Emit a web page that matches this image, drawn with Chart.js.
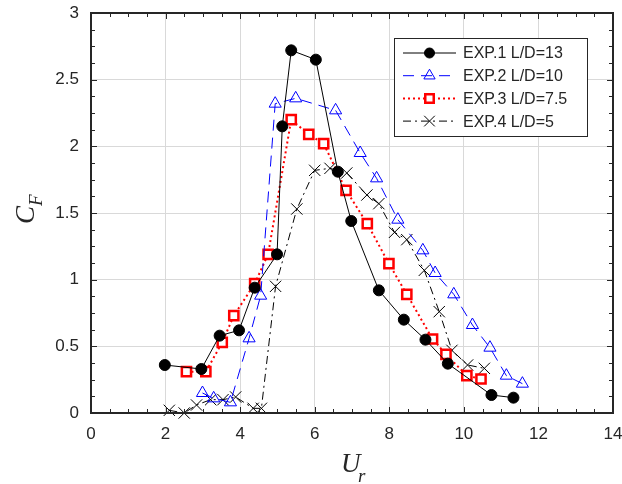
<!DOCTYPE html>
<html>
<head>
<meta charset="utf-8">
<script src="https://cdn.jsdelivr.net/npm/chart.js@4"></script>
<style>
  html, body { margin: 0; padding: 0; background: #fff; }
  #wrap { width: 622px; height: 484px; }
</style>
</head>
<body>
<div id="wrap"><canvas id="chart" width="622" height="484"></canvas></div>
<script>
// series data
var exp1X = [1.98, 2.96, 3.45, 3.97, 4.39, 4.99, 5.13, 5.37, 6.03, 6.62, 6.98, 7.72, 8.39, 8.97, 9.57, 10.74, 11.33];
var exp1Y = [0.36, 0.33, 0.58, 0.62, 0.94, 1.19, 2.15, 2.72, 2.65, 1.81, 1.44, 0.92, 0.70, 0.55, 0.37, 0.135, 0.115];

var exp2X = [2.99, 3.29, 3.74, 4.24, 4.55, 4.94, 5.49, 6.56, 7.22, 7.66, 8.23, 8.90, 9.23, 9.73, 10.23, 10.70, 11.14, 11.57];
var exp2Y = [0.15, 0.11, 0.08, 0.56, 0.88, 2.32, 2.36, 2.27, 1.95, 1.76, 1.45, 1.22, 1.05, 0.89, 0.66, 0.49, 0.28, 0.22];

var exp3X = [2.56, 3.08, 3.52, 3.83, 4.39, 4.75, 5.37, 5.84, 6.24, 6.84, 7.41, 7.99, 8.47, 9.16, 9.52, 10.08, 10.46];
var exp3Y = [0.31, 0.31, 0.53, 0.73, 0.97, 1.19, 2.20, 2.09, 2.02, 1.67, 1.42, 1.12, 0.89, 0.555, 0.44, 0.28, 0.255];

var exp4X = [2.10, 2.50, 2.83, 3.21, 3.54, 3.88, 4.35, 4.57, 4.95, 5.52, 6.00, 6.41, 6.86, 7.40, 7.72, 8.14, 8.47, 8.94, 9.34, 9.68, 10.10, 10.55];
var exp4Y = [0.02, 0.0, 0.06, 0.10, 0.10, 0.12, 0.035, 0.035, 0.95, 1.53, 1.82, 1.835, 1.80, 1.635, 1.57, 1.355, 1.30, 1.07, 0.76, 0.47, 0.36, 0.335];

var seriesNames = ['EXP.1 L/D=13', 'EXP.2 L/D=10', 'EXP.3 L/D=7.5', 'EXP.4 L/D=5'];
var xTicks = [0, 2, 4, 6, 8, 10, 12, 14];
var yTicks = [0, 0.5, 1, 1.5, 2, 2.5, 3];

function pts(xs, ys) {
    var out = [];
    for (var i = 0; i < xs.length; i++) {
        out.push({ x: xs[i], y: ys[i] });
    }
    return out;
}

var axisColor = '#262626';
var serif = '"Liberation Serif", "DejaVu Serif", serif';
var sans = '"Liberation Sans", Arial, sans-serif';

function drawMarker(ctx, ds, x, y, r) {
    ctx.fillStyle = ds.pointBackgroundColor;
    ctx.strokeStyle = ds.pointBorderColor;
    ctx.lineWidth = ds.pointBorderWidth;
    Chart.helpers.drawPoint(ctx, { pointStyle: ds.pointStyle, radius: r, borderWidth: ds.pointBorderWidth, rotation: 0 }, x, y);
}

// inward ticks on all four sides, box and axis titles
var framePlugin = {
    id: 'frame',
    afterDatasetsDraw: function(chart) {
        var ctx = chart.ctx;
        var a = chart.chartArea;
        var xs = chart.scales.x, ys = chart.scales.y;
        ctx.save();
        ctx.strokeStyle = axisColor;
        ctx.lineWidth = 1;
        var v, p, len;
        for (v = 0; v <= 14.001; v += 0.5) {
            p = Math.round(xs.getPixelForValue(v)) + 0.5;
            len = (Math.abs(v % 2) < 0.01) ? 6 : 4;
            ctx.beginPath();
            ctx.moveTo(p, a.bottom); ctx.lineTo(p, a.bottom - len);
            ctx.moveTo(p, a.top); ctx.lineTo(p, a.top + len);
            ctx.stroke();
        }
        for (v = 0; v <= 3.001; v += 0.125) {
            p = Math.round(ys.getPixelForValue(v)) + 0.5;
            len = (Math.abs(v % 0.5) < 0.01) ? 6 : 4;
            ctx.beginPath();
            ctx.moveTo(a.left, p); ctx.lineTo(a.left + len, p);
            ctx.moveTo(a.right, p); ctx.lineTo(a.right - len, p);
            ctx.stroke();
        }
        ctx.lineWidth = 2;
        ctx.strokeRect(a.left, a.top, a.right - a.left, a.bottom - a.top);

        // axis titles
        ctx.fillStyle = axisColor;
        ctx.textBaseline = 'alphabetic';
        ctx.font = 'italic 27px ' + serif;
        ctx.fillText('U', 341, 472);
        ctx.font = 'italic 19px ' + serif;
        ctx.fillText('r', 358, 482);

        ctx.save();
        ctx.translate(34, 224);
        ctx.rotate(-Math.PI / 2);
        ctx.font = 'italic 27px ' + serif;
        ctx.fillText('C', 0, 0);
        ctx.font = 'italic 19px ' + serif;
        ctx.fillText('F', 18, 8);
        ctx.restore();
        ctx.restore();
    }
};

// legend box, drawn from the dataset styles
var legendPlugin = {
    id: 'boxLegend',
    afterDraw: function(chart) {
        var ctx = chart.ctx;
        var bx = 394, by = 38, bw = 193, bh = 98;
        ctx.save();
        ctx.fillStyle = '#fff';
        ctx.fillRect(bx, by, bw, bh);
        ctx.strokeStyle = '#262626';
        ctx.lineWidth = 1;
        ctx.strokeRect(bx + 0.5, by + 0.5, bw, bh);
        chart.data.datasets.forEach(function(ds, i) {
            var y = by + 15 + i * 22.7;
            var x0 = bx + 9, x1 = bx + 62, xm = (x0 + x1) / 2;
            ctx.strokeStyle = ds.borderColor;
            ctx.lineWidth = ds.borderWidth;
            ctx.setLineDash(ds.borderDash || []);
            ctx.beginPath();
            ctx.moveTo(x0, y); ctx.lineTo(x1, y);
            ctx.stroke();
            ctx.setLineDash([]);
            drawMarker(ctx, ds, xm, y, ds.pointRadius - 0.5);
            ctx.fillStyle = '#262626';
            ctx.font = '16px ' + sans;
            ctx.textBaseline = 'middle';
            ctx.fillText(ds.label, bx + 69, y + 1);
        });
        ctx.restore();
    }
};

var ctx = document.getElementById('chart').getContext('2d');
new Chart(ctx, {
    type: 'scatter',
    data: {
        datasets: [
            {
                label: seriesNames[0],
                data: pts(exp1X, exp1Y),
                showLine: true,
                borderColor: '#000',
                borderWidth: 1,
                pointStyle: 'circle',
                pointRadius: 5.5,
                pointBackgroundColor: '#000',
                pointBorderColor: '#000',
                pointBorderWidth: 1
            },
            {
                label: seriesNames[1],
                data: pts(exp2X, exp2Y),
                showLine: true,
                borderColor: '#0000ff',
                borderWidth: 1,
                borderDash: [11, 7],
                pointStyle: 'triangle',
                pointRadius: 7,
                pointBackgroundColor: 'rgba(0,0,0,0)',
                pointBorderColor: '#0000ff',
                pointBorderWidth: 1
            },
            {
                label: seriesNames[2],
                data: pts(exp3X, exp3Y),
                showLine: true,
                borderColor: '#ff0000',
                borderWidth: 2,
                borderDash: [2, 3],
                pointStyle: 'rect',
                pointRadius: 6.5,
                pointBackgroundColor: '#fff',
                pointBorderColor: '#ff0000',
                pointBorderWidth: 2.5
            },
            {
                label: seriesNames[3],
                data: pts(exp4X, exp4Y),
                showLine: true,
                borderColor: '#000',
                borderWidth: 1,
                borderDash: [8, 4, 2, 4],
                pointStyle: 'crossRot',
                pointRadius: 8,
                pointBackgroundColor: '#000',
                pointBorderColor: '#000',
                pointBorderWidth: 1
            }
        ]
    },
    options: {
        responsive: false,
        animation: false,
        clip: false,
        layout: { padding: { top: 13, right: 8, left: 0, bottom: 0 } },
        plugins: {
            legend: { display: false },
            tooltip: { enabled: false }
        },
        scales: {
            x: {
                type: 'linear',
                min: 0, max: 14,
                afterBuildTicks: function(s) { s.ticks = xTicks.map(function(v) { return { value: v }; }); },
                afterFit: function(s) { s.height = 71; s.paddingLeft = 0; s.paddingRight = 0; },
                grid: { color: '#d9d9d9', lineWidth: 1, drawTicks: false },
                border: { display: false },
                ticks: {
                    color: axisColor,
                    padding: 11,
                    font: { size: 17, family: sans }
                }
            },
            y: {
                type: 'linear',
                min: 0, max: 3,
                afterBuildTicks: function(s) { s.ticks = yTicks.map(function(v) { return { value: v }; }); },
                afterFit: function(s) { s.width = 91; s.paddingTop = 0; s.paddingBottom = 0; },
                grid: { color: '#d9d9d9', lineWidth: 1, drawTicks: false },
                border: { display: false },
                ticks: {
                    color: axisColor,
                    padding: 12,
                    font: { size: 17, family: sans },
                    callback: function(v) { return String(v); }
                }
            }
        }
    },
    plugins: [framePlugin, legendPlugin]
});
</script>
</body>
</html>
